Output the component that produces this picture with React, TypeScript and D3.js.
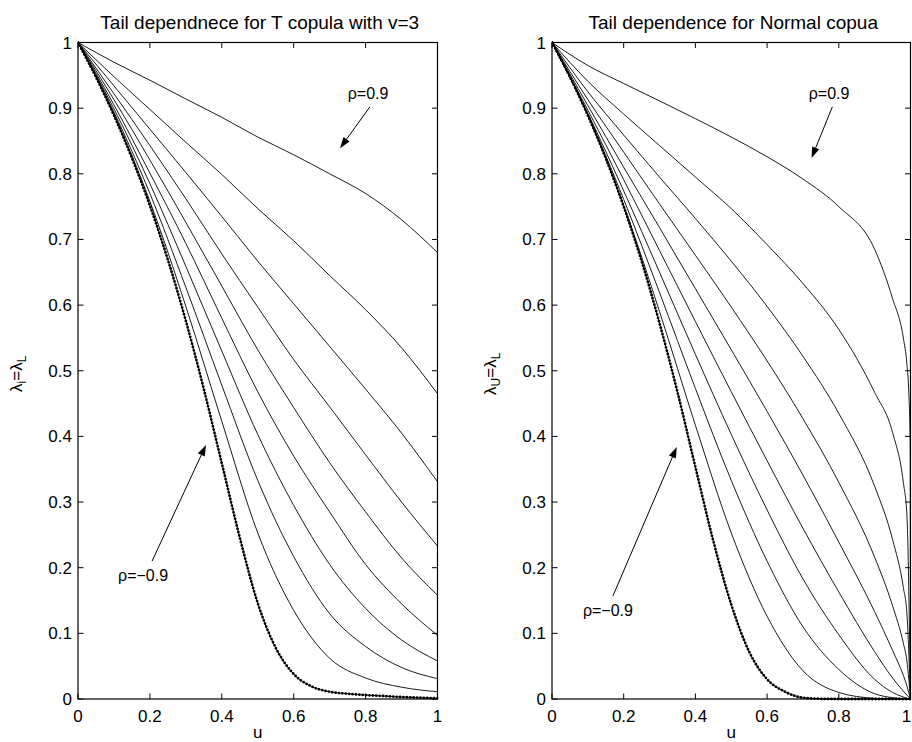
import React from 'react';
import * as d3 from 'd3';

// ---------- axis ticks ----------
const xTicks = [0, 0.2, 0.4, 0.6, 0.8, 1];
const xTickLabels = ['0', '0.2', '0.4', '0.6', '0.8', '1'];
const yTicks = [0, 0.1, 0.2, 0.3, 0.4, 0.5, 0.6, 0.7, 0.8, 0.9, 1];
const yTickLabels = ['0', '0.1', '0.2', '0.3', '0.4', '0.5', '0.6', '0.7', '0.8', '0.9', '1'];

const titles = ['Tail dependnece for T copula with v=3', 'Tail dependence for Normal copua'];
const yLabelSubs = ['i', 'U'];

// ---------- T copula (v=3) ----------
const uT = [0, 0.1, 0.2, 0.3, 0.4, 0.5, 0.6, 0.7, 0.8, 0.9, 1];
const tRho09 = [1, 0.97, 0.9425, 0.914, 0.886, 0.856, 0.829, 0.8, 0.77, 0.73, 0.68];
const tRho07 = [1, 0.948, 0.898, 0.848, 0.799, 0.747, 0.698, 0.645, 0.593, 0.535, 0.465];
const tRho05 = [1, 0.934, 0.868, 0.802, 0.735, 0.667, 0.602, 0.537, 0.472, 0.405, 0.331];
const tRho03 = [1, 0.922, 0.843, 0.762, 0.678, 0.597, 0.517, 0.445, 0.372, 0.3, 0.233];
const tRho01 = [1, 0.913, 0.821, 0.726, 0.629, 0.532, 0.444, 0.36, 0.285, 0.215, 0.158];
const tRhoM01 = [1, 0.905, 0.801, 0.694, 0.58, 0.468, 0.37, 0.285, 0.205, 0.145, 0.097];
const tRhoM03 = [1, 0.899, 0.785, 0.659, 0.53, 0.403, 0.295, 0.205, 0.138, 0.09, 0.058];
const tRhoM05 = [1, 0.894, 0.77, 0.627, 0.478, 0.333, 0.217, 0.13, 0.08, 0.048, 0.031];
const tRhoM07 = [1, 0.891, 0.758, 0.598, 0.423, 0.253, 0.135, 0.062, 0.032, 0.018, 0.011];
const uTDot = [0, 0.05, 0.1, 0.15, 0.2, 0.25, 0.3, 0.35, 0.4, 0.45, 0.5, 0.55, 0.6, 0.65, 0.7, 0.75, 0.8, 0.85, 0.9, 0.95, 1];
const tRhoM09 = [1, 0.947, 0.889, 0.824, 0.7515, 0.669, 0.576, 0.472, 0.359, 0.246, 0.146, 0.078, 0.038, 0.019, 0.011, 0.008, 0.006, 0.0045, 0.003, 0.002, 0.001];

// ---------- Normal copula ----------
const uNTop = [0, 0.1, 0.2, 0.3, 0.4, 0.5, 0.6, 0.7, 0.8, 0.9, 0.95, 0.98, 0.99, 0.995, 0.999, 1];
const nRho09 = [1, 0.965, 0.9375, 0.911, 0.884, 0.856, 0.826, 0.792, 0.75, 0.685, 0.61, 0.55, 0.51, 0.47, 0.39, 0];
const uN = [0, 0.1, 0.2, 0.3, 0.4, 0.5, 0.6, 0.7, 0.8, 0.9, 0.95, 0.98, 0.99, 1];
const nRho07 = [1, 0.941, 0.891, 0.843, 0.795, 0.747, 0.692, 0.633, 0.563, 0.467, 0.406, 0.33, 0.28, 0];
const nRho05 = [1, 0.925, 0.859, 0.795, 0.732, 0.667, 0.598, 0.522, 0.435, 0.324, 0.243, 0.17, 0.13, 0];
const nRho03 = [1, 0.913, 0.833, 0.754, 0.676, 0.597, 0.515, 0.427, 0.33, 0.216, 0.142, 0.085, 0.058, 0];
const nRho01 = [1, 0.904, 0.81, 0.718, 0.625, 0.532, 0.438, 0.341, 0.239, 0.133, 0.074, 0.036, 0.02, 0];
const nRhoM01 = [1, 0.897, 0.791, 0.683, 0.575, 0.468, 0.363, 0.26, 0.163, 0.072, 0.032, 0.012, 0.006, 0];
const nRhoM03 = [1, 0.892, 0.774, 0.65, 0.525, 0.403, 0.288, 0.183, 0.098, 0.03, 0.01, 0.003, 0.001, 0];
const nRhoM05 = [1, 0.89, 0.761, 0.619, 0.473, 0.333, 0.21, 0.11, 0.045, 0.008, 0.002, 0.0005, 0.0002, 0];
const nRhoM07 = [1, 0.889, 0.752, 0.59, 0.417, 0.253, 0.126, 0.043, 0.01, 0.001, 0, 0, 0, 0];
const uNDot = [0, 0.05, 0.1, 0.15, 0.2, 0.25, 0.3, 0.35, 0.4, 0.45, 0.5, 0.55, 0.6, 0.65, 0.7, 0.75, 0.8, 0.9, 1];
const nRhoM09 = [1, 0.9474, 0.8889, 0.8235, 0.75, 0.6668, 0.5723, 0.4675, 0.3533, 0.2407, 0.144, 0.072, 0.03, 0.011, 0.002, 0.0003, 0, 0, 0];

type Series = { u: number[]; v: number[]; dotted?: boolean };

const tSeries: Series[] = [
  { u: uT, v: tRho09 }, { u: uT, v: tRho07 }, { u: uT, v: tRho05 }, { u: uT, v: tRho03 },
  { u: uT, v: tRho01 }, { u: uT, v: tRhoM01 }, { u: uT, v: tRhoM03 }, { u: uT, v: tRhoM05 },
  { u: uT, v: tRhoM07 }, { u: uTDot, v: tRhoM09, dotted: true },
];
const nSeries: Series[] = [
  { u: uNTop, v: nRho09 }, { u: uN, v: nRho07 }, { u: uN, v: nRho05 }, { u: uN, v: nRho03 },
  { u: uN, v: nRho01 }, { u: uN, v: nRhoM01 }, { u: uN, v: nRhoM03 }, { u: uN, v: nRhoM05 },
  { u: uN, v: nRhoM07 }, { u: uNDot, v: nRhoM09, dotted: true },
];

// annotation anchors in data coordinates: [text u, text λ, arrow start u, λ, arrow tip u, λ]
const annTop = [
  [0.807, 0.923, 0.812, 0.902, 0.729, 0.839],
  [0.773, 0.923, 0.782, 0.902, 0.724, 0.824],
];
const annBottom = [
  [0.181, 0.189, 0.206, 0.21, 0.356, 0.387],
  [0.156, 0.136, 0.17, 0.157, 0.348, 0.384],
];
const annTexts = ['ρ=0.9', 'ρ=−0.9'];

const FONT = '"Liberation Sans", Arial, Helvetica, sans-serif';
const FS = 17;
const TOP = 42.5;
const BOTTOM = 699;
const panels = [
  { x0: 78, x1: 437.5 },
  { x0: 552, x1: 910.5 },
];

function Arrow({ x1, y1, x2, y2 }: { x1: number; y1: number; x2: number; y2: number }) {
  const ang = Math.atan2(y2 - y1, x2 - x1);
  const len = 11;
  const half = 3.8;
  const bx = x2 - len * Math.cos(ang);
  const by = y2 - len * Math.sin(ang);
  const px = -Math.sin(ang) * half;
  const py = Math.cos(ang) * half;
  return (
    <g>
      <line x1={x1} y1={y1} x2={bx} y2={by} stroke="#000" strokeWidth={1} />
      <polygon points={`${x2},${y2} ${bx + px},${by + py} ${bx - px},${by - py}`} fill="#000" />
    </g>
  );
}

function Panel({ idx, series }: { idx: number; series: Series[] }) {
  const p = panels[idx];
  const x = d3.scaleLinear().domain([0, 1]).range([p.x0, p.x1]);
  const y = d3.scaleLinear().domain([0, 1]).range([BOTTOM, TOP]);
  const line = (s: Series) =>
    d3
      .line<number>()
      .x((_, i) => x(s.u[i]))
      .y((d) => y(d))
      .curve(d3.curveMonotoneX)(s.v) as string;
  const tl = 5.5;
  const cx = (p.x0 + p.x1) / 2;
  const at = annTop[idx];
  const ab = annBottom[idx];
  return (
    <g>
      <defs>
        <clipPath id={`clip${idx}`}>
          <rect x={p.x0} y={TOP - 2} width={p.x1 - p.x0 + 1} height={BOTTOM - TOP + 4} />
        </clipPath>
      </defs>
      <g clipPath={`url(#clip${idx})`}>
        {series.map((s, i) => (
          <g key={i}>
            <path d={line(s)} fill="none" stroke="#000" strokeWidth={0.9} />
            {s.dotted && (
              <path
                d={line(s)}
                fill="none"
                stroke="#000"
                strokeWidth={2.8}
                strokeLinecap="round"
                strokeDasharray="0 3.4"
              />
            )}
          </g>
        ))}
      </g>
      {/* frame */}
      <rect x={p.x0} y={TOP} width={p.x1 - p.x0} height={BOTTOM - TOP} fill="none" stroke="#000" strokeWidth={1.2} />
      {/* ticks */}
      {xTicks.map((t, i) => (
        <g key={'x' + i}>
          <line x1={x(t)} x2={x(t)} y1={BOTTOM} y2={BOTTOM - tl} stroke="#000" strokeWidth={1} />
          <line x1={x(t)} x2={x(t)} y1={TOP} y2={TOP + tl} stroke="#000" strokeWidth={1} />
          <text
            x={Math.min(x(t), 906.5)}
            y={BOTTOM + 23}
            textAnchor="middle"
            fontFamily={FONT}
            fontSize={FS}
          >
            {xTickLabels[i]}
          </text>
        </g>
      ))}
      {yTicks.map((t, i) => (
        <g key={'y' + i}>
          <line x1={p.x0} x2={p.x0 + tl} y1={y(t)} y2={y(t)} stroke="#000" strokeWidth={1} />
          <line x1={p.x1} x2={p.x1 - tl} y1={y(t)} y2={y(t)} stroke="#000" strokeWidth={1} />
          <text x={p.x0 - 6} y={y(t) + 6} textAnchor="end" fontFamily={FONT} fontSize={FS}>
            {yTickLabels[i]}
          </text>
        </g>
      ))}
      {/* title */}
      <text x={cx + 2} y={29} textAnchor="middle" fontFamily={FONT} fontSize={19}>
        {titles[idx]}
      </text>
      {/* x label */}
      <text x={cx} y={738} textAnchor="middle" fontFamily={FONT} fontSize={FS}>
        u
      </text>
      {/* y label */}
      <text
        transform={`translate(${p.x0 - 56},${(TOP + BOTTOM) / 2 + 3}) rotate(-90)`}
        textAnchor="middle"
        fontFamily={FONT}
        fontSize={FS}
      >
        λ<tspan fontSize={12} dy={4}>{yLabelSubs[idx]}</tspan>
        <tspan dy={-4}>=λ</tspan>
        <tspan fontSize={12} dy={4}>L</tspan>
      </text>
      {/* annotations */}
      <text x={x(at[0])} y={y(at[1]) + 6} textAnchor="middle" fontFamily={FONT} fontSize={FS - 1}>
        {annTexts[0]}
      </text>
      <Arrow x1={x(at[2])} y1={y(at[3])} x2={x(at[4])} y2={y(at[5])} />
      <text x={x(ab[0])} y={y(ab[1]) + 6} textAnchor="middle" fontFamily={FONT} fontSize={FS - 1}>
        {annTexts[1]}
      </text>
      <Arrow x1={x(ab[2])} y1={y(ab[3])} x2={x(ab[4])} y2={y(ab[5])} />
    </g>
  );
}

export default function App() {
  return (
    <svg
      width={912}
      height={742}
      style={{ position: 'absolute', left: 0, top: 0, background: '#fff' }}
    >
      <rect x={0} y={0} width={912} height={742} fill="#fff" />
      <Panel idx={0} series={tSeries} />
      <Panel idx={1} series={nSeries} />
    </svg>
  );
}
